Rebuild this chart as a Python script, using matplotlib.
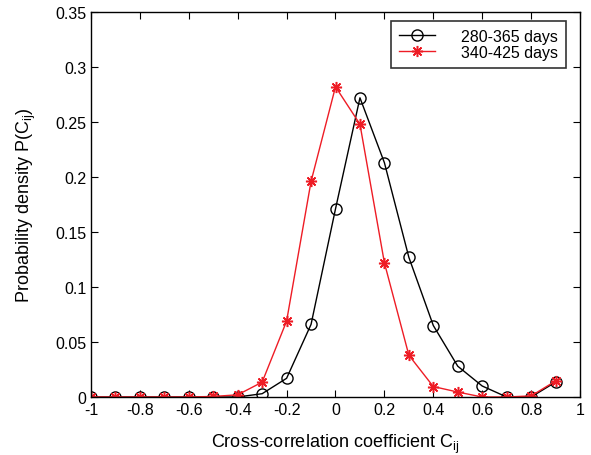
import numpy as np
import matplotlib
matplotlib.use('Agg')
import matplotlib.pyplot as plt

plt.rcParams['font.family'] = ['Liberation Sans', 'DejaVu Sans']
plt.rcParams['mathtext.fontset'] = 'custom'
plt.rcParams['mathtext.rm'] = 'Liberation Sans'
plt.rcParams['mathtext.it'] = 'Liberation Sans'

# bin centres of the cross-correlation coefficient
c = [-1.0, -0.9, -0.8, -0.7, -0.6, -0.5, -0.4, -0.3, -0.2, -0.1,
     0.0, 0.1, 0.2, 0.3, 0.4, 0.5, 0.6, 0.7, 0.8, 0.9]
# 280-365 days window
p_280 = [0.0, 0.0, 0.0, 0.0, 0.0, 0.0, 0.0, 0.003, 0.017, 0.066,
         0.171, 0.272, 0.213, 0.127, 0.065, 0.028, 0.010, 0.0, 0.0, 0.0135]
# 340-425 days window
p_340 = [0.0, 0.0, 0.0, 0.0, 0.0, 0.0005, 0.002, 0.0135, 0.069, 0.196,
         0.282, 0.248, 0.122, 0.038, 0.0095, 0.0045, 0.0, 0.0, 0.001, 0.0145]

W, H = 591, 456
fig = plt.figure(figsize=(W/100, H/100), dpi=100, facecolor='white')
ax = fig.add_axes([91/W, (H-398)/H, 489/W, 385/H])

ax.plot(c, p_280, 'k-o', mfc='none', ms=8, mew=1.0, lw=1.0, label='280-365 days')
ax.plot(c, p_340, '-', marker=(8, 2, 0), color='#ee1c25', ms=8, mew=1.1, lw=1.0,
        label='340-425 days')

ax.set_xlim(-1, 1)
ax.set_ylim(0, 0.35)
ax.set_xticks(np.arange(-1, 1.01, 0.2))
ax.set_xticklabels(['-1', '-0.8', '-0.6', '-0.4', '-0.2', '0', '0.2', '0.4', '0.6', '0.8', '1'])
ax.set_yticks(np.arange(0, 0.351, 0.05))
ax.set_yticklabels(['0', '0.05', '0.1', '0.15', '0.2', '0.25', '0.3', '0.35'])
ax.tick_params(direction='in', top=True, right=True, length=5, width=0.8, labelsize=11.5)
for s in ax.spines.values():
    s.set_linewidth(1.0)

ax.set_xlabel(r'Cross-correlation coefficient C$_{\rm ij}$', fontsize=13, labelpad=11)
ax.set_ylabel(r'Probability density P(C$_{\rm ij}$)', fontsize=13, labelpad=12)

leg = ax.legend(loc='upper right', bbox_to_anchor=(566/W, 1-22/H),
                bbox_transform=fig.transFigure, borderaxespad=0,
                fontsize=11.5, frameon=True, fancybox=False,
                edgecolor='black', handlelength=2.3, handletextpad=1.6,
                borderpad=0.5, labelspacing=0.05)
leg.get_frame().set_linewidth(1.2)

fig.savefig('out.png', dpi=100)
